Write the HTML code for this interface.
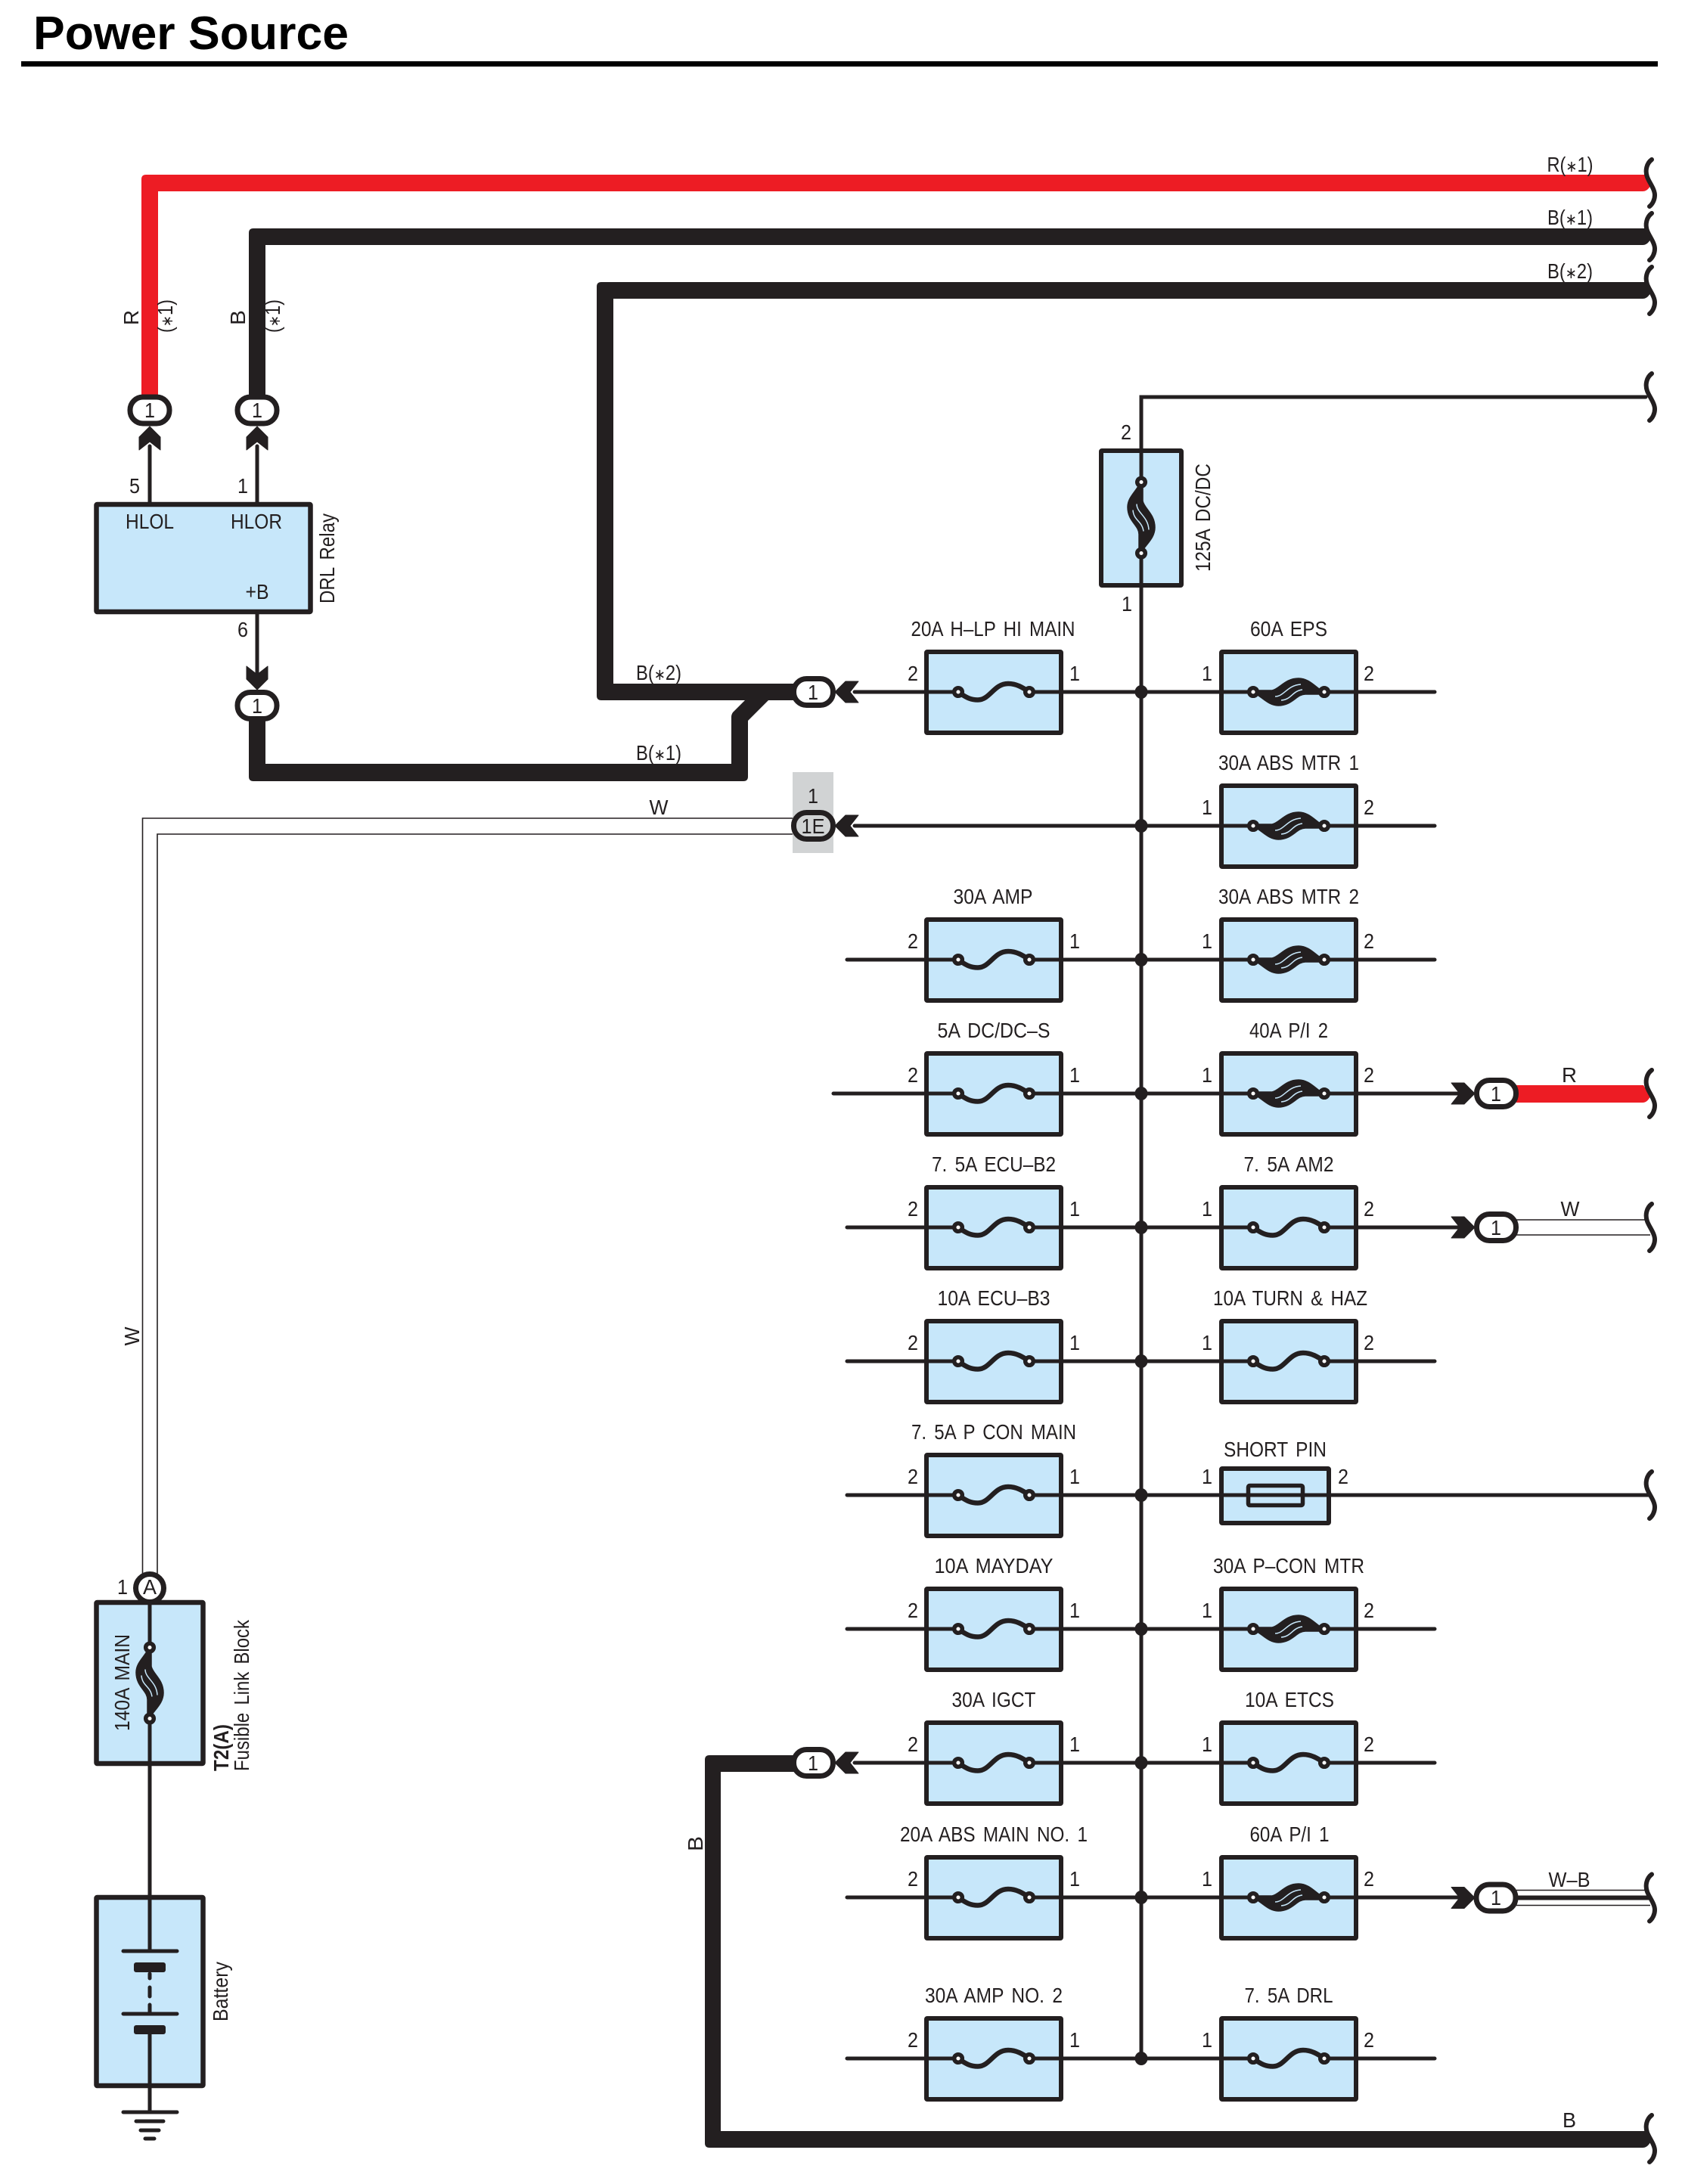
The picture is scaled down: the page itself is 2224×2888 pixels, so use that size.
<!DOCTYPE html>
<html>
<head>
<meta charset="utf-8">
<title>Power Source</title>
<style>
html,body{margin:0;padding:0;background:#fff}
svg{display:block}
text{font-family:"Liberation Sans",sans-serif;font-size:27.5px;fill:#231f20;word-spacing:4px}
.m{text-anchor:middle}
.w{fill:none;stroke:#231f20;stroke-width:5;stroke-linecap:round}
.t{fill:none;stroke:#231f20;stroke-width:1.6}
.k{fill:#231f20}
.r{font-size:21px}
</style>
</head>
<body>
<svg xmlns="http://www.w3.org/2000/svg" width="2224" height="2888" viewBox="0 0 2224 2888">
<defs>
<rect id="b" x="-89" y="-53" width="178" height="107" rx="1" fill="#c7e7fa" stroke="#231f20" stroke-width="6"/>
<g id="s">
<line x1="-42" y1="0" x2="42" y2="0" stroke="#c7e7fa" stroke-width="7"/>
<path d="M-47 0C-36 8-30 10.500-21 10.500C-5 10.500 0-11 19-11C30-11 38-6 47 0" fill="none" stroke="#231f20" stroke-width="6.500"/>
<circle cx="-47" cy="0" r="5.300" fill="#fff" stroke="#231f20" stroke-width="5.500"/>
<circle cx="47" cy="0" r="5.300" fill="#fff" stroke="#231f20" stroke-width="5.500"/>
</g>
<g id="h">
<line x1="-42" y1="0" x2="42" y2="0" stroke="#c7e7fa" stroke-width="7"/>
<path d="M-43-2L-22-2C-12-4-5-18 13-18C26-18 34-8 43-2L43 3L22 3C10 3 5 18-14 18C-26 18-34 8-43 3Z" fill="#231f20" stroke="#231f20" stroke-width="1.500"/>
<path d="M-18 6C-6 6-2-9 16-10M-10 11C4 10 4-1 18-3" fill="none" stroke="#c7e7fa" stroke-width="1.500"/>
<circle cx="-47" cy="0" r="5.300" fill="#fff" stroke="#231f20" stroke-width="5.500"/>
<circle cx="47" cy="0" r="5.300" fill="#fff" stroke="#231f20" stroke-width="5.500"/>
</g>
<polygon id="a" points="0,0 14,14 14,31 0,20 -14,31 -14,14" fill="#231f20" stroke="#231f20" stroke-width="1" stroke-linejoin="round"/>
<rect id="o" x="-26" y="-17.500" width="52" height="35" rx="17" fill="#fff" stroke="#231f20" stroke-width="7"/>
<path id="c" d="M2-31C-5-26-7-16-4-8C-1 0 6 8 6 16C6 22 3 28-1 31" fill="none" stroke="#231f20" stroke-width="6" stroke-linecap="round"/>
<ellipse id="d" cx="0" cy="0" rx="8.500" ry="9" fill="#231f20"/>
</defs>

<!-- Title -->
<text x="44" y="65" textLength="417" lengthAdjust="spacingAndGlyphs" style="font-size:62px;font-weight:bold;fill:#000;word-spacing:0">Power Source</text>
<rect x="28" y="81" width="2164" height="7" fill="#000"/>

<!-- Heavy wires -->
<path d="M187 525V237Q187 231 193 231H2175L2182 246Q2178 253 2172 253H209V525Z" fill="#ed1c24"/>
<path class="k" d="M329 525V308Q329 302 335 302H2175L2182 317Q2178 324 2172 324H351V525Z"/>
<path class="k" d="M789 920V379Q789 373 795 373H2175L2182 388Q2178 395 2172 395H811V904H1052V926H795Q789 926 789 920Z"/>
<path class="k" d="M329 950V1027Q329 1033 335 1033H983Q989 1033 989 1027V953L1016 926H985L969 942Q967 945 967 948V1010H351V950Z"/>
<path class="k" d="M1055 2321H938Q932 2321 932 2327V2834Q932 2840 938 2840H2172Q2178 2840 2182 2833L2175 2818H953V2343H1055Z"/>
<path d="M2005 1435H2173L2182 1450Q2178 1458 2172 1458H2005Z" fill="#ed1c24"/>

<!-- Thin double wires -->
<path class="t" d="M188.500 2085V1082H1050M208 2085V1103H1050"/>
<path class="t" d="M2005 1613H2178M2005 1633H2182M2005 2499.500H2178M2005 2519.500H2182"/>
<line x1="2005" y1="2509.500" x2="2182" y2="2509.500" stroke="#231f20" stroke-width="6"/>

<!-- Fuse bodies -->
<use href="#b" x="1314" y="915"/><use href="#b" x="1704" y="915"/>
<use href="#b" x="1704" y="1092"/>
<use href="#b" x="1314" y="1269"/><use href="#b" x="1704" y="1269"/>
<use href="#b" x="1314" y="1446"/><use href="#b" x="1704" y="1446"/>
<use href="#b" x="1314" y="1623"/><use href="#b" x="1704" y="1623"/>
<use href="#b" x="1314" y="1800"/><use href="#b" x="1704" y="1800"/>
<use href="#b" x="1314" y="1977"/>
<rect x="1615" y="1942" width="142" height="72" rx="1" fill="#c7e7fa" stroke="#231f20" stroke-width="6"/>
<use href="#b" x="1314" y="2154"/><use href="#b" x="1704" y="2154"/>
<use href="#b" x="1314" y="2331"/><use href="#b" x="1704" y="2331"/>
<use href="#b" x="1314" y="2509"/><use href="#b" x="1704" y="2509"/>
<use href="#b" x="1314" y="2722"/><use href="#b" x="1704" y="2722"/>
<rect x="1456" y="596" width="106" height="178" rx="1" fill="#c7e7fa" stroke="#231f20" stroke-width="6"/>
<rect x="127.500" y="667" width="283" height="142" rx="1" fill="#c7e7fa" stroke="#231f20" stroke-width="6.500"/>
<rect x="127.500" y="2119" width="141" height="213" rx="1" fill="#c7e7fa" stroke="#231f20" stroke-width="6.500"/>
<rect x="127.500" y="2509" width="141" height="249" rx="1" fill="#c7e7fa" stroke="#231f20" stroke-width="6.500"/>

<!-- Bus and branch wires -->
<g class="w">
<path d="M2176 525H1509V2722"/>
<path d="M1130 915H1897M1130 1092H1897M1120 1269H1897M1102 1446H1945M1120 1623H1945M1120 1800H1897M1120 1977H2180M1120 2154H1897M1130 2331H1897M1120 2509H1945M1120 2722H1897"/>
<path d="M198 590V664M340 590V664M340 812V890"/>
<path d="M198 2100V2580M198 2690V2793"/>
</g>

<!-- Short pin -->
<rect x="1650.500" y="1964.500" width="72" height="26" rx="2" fill="none" stroke="#231f20" stroke-width="5.500"/>

<!-- Junctions -->
<use href="#d" x="1509" y="915"/><use href="#d" x="1509" y="1092"/><use href="#d" x="1509" y="1269"/><use href="#d" x="1509" y="1446"/><use href="#d" x="1509" y="1623"/><use href="#d" x="1509" y="1800"/><use href="#d" x="1509" y="1977"/><use href="#d" x="1509" y="2154"/><use href="#d" x="1509" y="2331"/><use href="#d" x="1509" y="2509"/><use href="#d" x="1509" y="2722"/>

<!-- Fuse symbols -->
<use href="#s" x="1314" y="915"/><use href="#h" x="1704" y="915"/>
<use href="#h" x="1704" y="1092"/>
<use href="#s" x="1314" y="1269"/><use href="#h" x="1704" y="1269"/>
<use href="#s" x="1314" y="1446"/><use href="#h" x="1704" y="1446"/>
<use href="#s" x="1314" y="1623"/><use href="#s" x="1704" y="1623"/>
<use href="#s" x="1314" y="1800"/><use href="#s" x="1704" y="1800"/>
<use href="#s" x="1314" y="1977"/>
<use href="#s" x="1314" y="2154"/><use href="#h" x="1704" y="2154"/>
<use href="#s" x="1314" y="2331"/><use href="#s" x="1704" y="2331"/>
<use href="#s" x="1314" y="2509"/><use href="#h" x="1704" y="2509"/>
<use href="#s" x="1314" y="2722"/><use href="#s" x="1704" y="2722"/>
<use href="#h" transform="translate(1509 684.500) rotate(90)"/>
<use href="#h" transform="translate(198 2225.500) rotate(90)"/>

<!-- Connectors and arrows -->
<use href="#a" transform="translate(198 564)"/>
<use href="#a" transform="translate(340 564)"/>
<use href="#a" transform="translate(340 912) rotate(180)"/>
<use href="#a" transform="translate(1104 915) rotate(-90)"/>
<use href="#a" transform="translate(1104 1092) rotate(-90)"/>
<use href="#a" transform="translate(1104 2331) rotate(-90)"/>
<use href="#a" transform="translate(1950 1446) rotate(90)"/>
<use href="#a" transform="translate(1950 1623) rotate(90)"/>
<use href="#a" transform="translate(1950 2509.500) rotate(90)"/>
<use href="#o" x="198" y="542.500"/>
<use href="#o" x="340" y="542.500"/>
<use href="#o" x="340" y="933"/>
<use href="#o" x="1075.500" y="915"/>
<rect x="1048" y="1021" width="54" height="107" fill="#d1d3d4"/>
<rect x="1049.500" y="1074.500" width="52" height="35" rx="17" fill="#d1d3d4" stroke="#231f20" stroke-width="7"/>
<use href="#o" x="1075.500" y="2331"/>
<use href="#o" x="1978.500" y="1446"/>
<use href="#o" x="1978.500" y="1623"/>
<use href="#o" x="1978" y="2509.500"/>
<circle cx="198" cy="2100" r="18.500" fill="#fff" stroke="#231f20" stroke-width="7"/>

<!-- Wire-end breaks -->
<use href="#c" x="2182" y="242"/><use href="#c" x="2182" y="313"/><use href="#c" x="2182" y="384"/><use href="#c" x="2182" y="525"/>
<use href="#c" x="2182" y="1446"/><use href="#c" x="2182" y="1623"/><use href="#c" x="2182" y="1977"/><use href="#c" x="2182" y="2509.500"/><use href="#c" x="2182" y="2828"/>

<!-- Battery -->
<g class="w">
<path d="M163 2580H234M163 2663H234"/>
<path d="M198 2610V2616M198 2628V2640M198 2651V2661"/>
<path d="M163 2793H234M180 2805H216M186 2817H210M192 2828H204"/>
</g>
<rect x="177" y="2595" width="42" height="13" rx="3" class="k"/>
<rect x="177" y="2678" width="42" height="12" rx="3" class="k"/>

<!-- Fuse labels -->
<g class="m">
<text x="1313" y="841" textLength="217" lengthAdjust="spacingAndGlyphs">20A H–LP HI MAIN</text>
<text x="1704" y="841" textLength="102" lengthAdjust="spacingAndGlyphs">60A EPS</text>
<text x="1704" y="1018" textLength="186" lengthAdjust="spacingAndGlyphs">30A ABS MTR 1</text>
<text x="1313" y="1195" textLength="105" lengthAdjust="spacingAndGlyphs">30A AMP</text>
<text x="1704" y="1195" textLength="186" lengthAdjust="spacingAndGlyphs">30A ABS MTR 2</text>
<text x="1314" y="1372" textLength="149" lengthAdjust="spacingAndGlyphs">5A DC/DC–S</text>
<text x="1704" y="1372" textLength="104" lengthAdjust="spacingAndGlyphs">40A P/I 2</text>
<text x="1314" y="1549" textLength="164" lengthAdjust="spacingAndGlyphs">7. 5A ECU–B2</text>
<text x="1704" y="1549" textLength="119" lengthAdjust="spacingAndGlyphs">7. 5A AM2</text>
<text x="1314" y="1726" textLength="149" lengthAdjust="spacingAndGlyphs">10A ECU–B3</text>
<text x="1706" y="1726" textLength="204" lengthAdjust="spacingAndGlyphs">10A TURN &amp; HAZ</text>
<text x="1314" y="1903" textLength="218" lengthAdjust="spacingAndGlyphs">7. 5A P CON MAIN</text>
<text x="1686" y="1926" textLength="136" lengthAdjust="spacingAndGlyphs">SHORT PIN</text>
<text x="1314" y="2080" textLength="157" lengthAdjust="spacingAndGlyphs">10A MAYDAY</text>
<text x="1704" y="2080" textLength="200" lengthAdjust="spacingAndGlyphs">30A P–CON MTR</text>
<text x="1314" y="2257" textLength="111" lengthAdjust="spacingAndGlyphs">30A IGCT</text>
<text x="1705" y="2257" textLength="118" lengthAdjust="spacingAndGlyphs">10A ETCS</text>
<text x="1314" y="2435" textLength="248" lengthAdjust="spacingAndGlyphs">20A ABS MAIN NO. 1</text>
<text x="1705" y="2435" textLength="105" lengthAdjust="spacingAndGlyphs">60A P/I 1</text>
<text x="1314" y="2648" textLength="182" lengthAdjust="spacingAndGlyphs">30A AMP NO. 2</text>
<text x="1704" y="2648" textLength="117" lengthAdjust="spacingAndGlyphs">7. 5A DRL</text>

<!-- Pin numbers -->
<text x="1207" y="900" textLength="14" lengthAdjust="spacingAndGlyphs">2</text><text x="1421" y="900" textLength="14" lengthAdjust="spacingAndGlyphs">1</text><text x="1596" y="900" textLength="14" lengthAdjust="spacingAndGlyphs">1</text><text x="1810" y="900" textLength="14" lengthAdjust="spacingAndGlyphs">2</text>
<text x="1596" y="1077" textLength="14" lengthAdjust="spacingAndGlyphs">1</text><text x="1810" y="1077" textLength="14" lengthAdjust="spacingAndGlyphs">2</text>
<text x="1207" y="1254" textLength="14" lengthAdjust="spacingAndGlyphs">2</text><text x="1421" y="1254" textLength="14" lengthAdjust="spacingAndGlyphs">1</text><text x="1596" y="1254" textLength="14" lengthAdjust="spacingAndGlyphs">1</text><text x="1810" y="1254" textLength="14" lengthAdjust="spacingAndGlyphs">2</text>
<text x="1207" y="1431" textLength="14" lengthAdjust="spacingAndGlyphs">2</text><text x="1421" y="1431" textLength="14" lengthAdjust="spacingAndGlyphs">1</text><text x="1596" y="1431" textLength="14" lengthAdjust="spacingAndGlyphs">1</text><text x="1810" y="1431" textLength="14" lengthAdjust="spacingAndGlyphs">2</text>
<text x="1207" y="1608" textLength="14" lengthAdjust="spacingAndGlyphs">2</text><text x="1421" y="1608" textLength="14" lengthAdjust="spacingAndGlyphs">1</text><text x="1596" y="1608" textLength="14" lengthAdjust="spacingAndGlyphs">1</text><text x="1810" y="1608" textLength="14" lengthAdjust="spacingAndGlyphs">2</text>
<text x="1207" y="1785" textLength="14" lengthAdjust="spacingAndGlyphs">2</text><text x="1421" y="1785" textLength="14" lengthAdjust="spacingAndGlyphs">1</text><text x="1596" y="1785" textLength="14" lengthAdjust="spacingAndGlyphs">1</text><text x="1810" y="1785" textLength="14" lengthAdjust="spacingAndGlyphs">2</text>
<text x="1207" y="1962" textLength="14" lengthAdjust="spacingAndGlyphs">2</text><text x="1421" y="1962" textLength="14" lengthAdjust="spacingAndGlyphs">1</text><text x="1596" y="1962" textLength="14" lengthAdjust="spacingAndGlyphs">1</text><text x="1776" y="1962" textLength="14" lengthAdjust="spacingAndGlyphs">2</text>
<text x="1207" y="2139" textLength="14" lengthAdjust="spacingAndGlyphs">2</text><text x="1421" y="2139" textLength="14" lengthAdjust="spacingAndGlyphs">1</text><text x="1596" y="2139" textLength="14" lengthAdjust="spacingAndGlyphs">1</text><text x="1810" y="2139" textLength="14" lengthAdjust="spacingAndGlyphs">2</text>
<text x="1207" y="2316" textLength="14" lengthAdjust="spacingAndGlyphs">2</text><text x="1421" y="2316" textLength="14" lengthAdjust="spacingAndGlyphs">1</text><text x="1596" y="2316" textLength="14" lengthAdjust="spacingAndGlyphs">1</text><text x="1810" y="2316" textLength="14" lengthAdjust="spacingAndGlyphs">2</text>
<text x="1207" y="2494" textLength="14" lengthAdjust="spacingAndGlyphs">2</text><text x="1421" y="2494" textLength="14" lengthAdjust="spacingAndGlyphs">1</text><text x="1596" y="2494" textLength="14" lengthAdjust="spacingAndGlyphs">1</text><text x="1810" y="2494" textLength="14" lengthAdjust="spacingAndGlyphs">2</text>
<text x="1207" y="2707" textLength="14" lengthAdjust="spacingAndGlyphs">2</text><text x="1421" y="2707" textLength="14" lengthAdjust="spacingAndGlyphs">1</text><text x="1596" y="2707" textLength="14" lengthAdjust="spacingAndGlyphs">1</text><text x="1810" y="2707" textLength="14" lengthAdjust="spacingAndGlyphs">2</text>
<text x="1489" y="581" textLength="14" lengthAdjust="spacingAndGlyphs">2</text><text x="1490" y="808" textLength="14" lengthAdjust="spacingAndGlyphs">1</text>
<text x="178" y="652" textLength="14" lengthAdjust="spacingAndGlyphs">5</text><text x="321" y="652" textLength="14" lengthAdjust="spacingAndGlyphs">1</text><text x="321" y="842" textLength="14" lengthAdjust="spacingAndGlyphs">6</text>
<text x="162" y="2108" textLength="14" lengthAdjust="spacingAndGlyphs">1</text>
<text x="1075" y="1062" textLength="14" lengthAdjust="spacingAndGlyphs">1</text>

<!-- Connector labels -->
<text x="198" y="552" textLength="14" lengthAdjust="spacingAndGlyphs">1</text>
<text x="340" y="552" textLength="14" lengthAdjust="spacingAndGlyphs">1</text>
<text x="340" y="943" textLength="14" lengthAdjust="spacingAndGlyphs">1</text>
<text x="1075" y="925" textLength="14" lengthAdjust="spacingAndGlyphs">1</text>
<text x="1075" y="1102" textLength="31" lengthAdjust="spacingAndGlyphs">1E</text>
<text x="1075" y="2341" textLength="14" lengthAdjust="spacingAndGlyphs">1</text>
<text x="1978" y="1456" textLength="14" lengthAdjust="spacingAndGlyphs">1</text>
<text x="1978" y="1633" textLength="14" lengthAdjust="spacingAndGlyphs">1</text>
<text x="1978" y="2519" textLength="14" lengthAdjust="spacingAndGlyphs">1</text>
<text x="198" y="2108" textLength="18" lengthAdjust="spacingAndGlyphs">A</text>

<!-- Relay labels -->
<text x="198" y="699" textLength="64" lengthAdjust="spacingAndGlyphs">HLOL</text>
<text x="339" y="699" textLength="68" lengthAdjust="spacingAndGlyphs">HLOR</text>
<text x="340" y="792" textLength="31" lengthAdjust="spacingAndGlyphs">+B</text>

<!-- Wire labels -->
<text x="2076" y="227" textLength="61" lengthAdjust="spacingAndGlyphs">R(<tspan class="r">∗</tspan>1)</text>
<text x="2076" y="297" textLength="60" lengthAdjust="spacingAndGlyphs">B(<tspan class="r">∗</tspan>1)</text>
<text x="2076" y="368" textLength="60" lengthAdjust="spacingAndGlyphs">B(<tspan class="r">∗</tspan>2)</text>
<text x="871" y="899" textLength="60" lengthAdjust="spacingAndGlyphs">B(<tspan class="r">∗</tspan>2)</text>
<text x="871" y="1005" textLength="60" lengthAdjust="spacingAndGlyphs">B(<tspan class="r">∗</tspan>1)</text>
<text x="871" y="1077" textLength="25" lengthAdjust="spacingAndGlyphs">W</text>
<text x="2075" y="1431" textLength="20" lengthAdjust="spacingAndGlyphs">R</text>
<text x="2076" y="1608" textLength="25" lengthAdjust="spacingAndGlyphs">W</text>
<text x="2075" y="2495" textLength="55" lengthAdjust="spacingAndGlyphs">W–B</text>
<text x="2075" y="2813" textLength="18" lengthAdjust="spacingAndGlyphs">B</text>

<!-- Rotated labels -->
<text transform="translate(183 420) rotate(-90)" textLength="20" lengthAdjust="spacingAndGlyphs">R</text>
<text transform="translate(228 418) rotate(-90)" textLength="44" lengthAdjust="spacingAndGlyphs">(<tspan class="r">∗</tspan>1)</text>
<text transform="translate(324 420) rotate(-90)" textLength="20" lengthAdjust="spacingAndGlyphs">B</text>
<text transform="translate(370 418) rotate(-90)" textLength="44" lengthAdjust="spacingAndGlyphs">(<tspan class="r">∗</tspan>1)</text>
<text transform="translate(184 1767) rotate(-90)" textLength="25" lengthAdjust="spacingAndGlyphs">W</text>
<text transform="translate(929 2438) rotate(-90)" textLength="20" lengthAdjust="spacingAndGlyphs">B</text>
</g>
<text transform="translate(442 798) rotate(-90)" textLength="119" lengthAdjust="spacingAndGlyphs">DRL Relay</text>
<text transform="translate(1600 756) rotate(-90)" textLength="143" lengthAdjust="spacingAndGlyphs">125A DC/DC</text>
<text transform="translate(171 2289) rotate(-90)" textLength="128" lengthAdjust="spacingAndGlyphs">140A MAIN</text>
<text transform="translate(302 2342) rotate(-90)" textLength="62" lengthAdjust="spacingAndGlyphs" style="font-weight:bold">T2(A)</text>
<text transform="translate(329 2342) rotate(-90)" textLength="200" lengthAdjust="spacingAndGlyphs">Fusible Link Block</text>
<text transform="translate(301 2673) rotate(-90)" textLength="79" lengthAdjust="spacingAndGlyphs">Battery</text>
</svg>
</body>
</html>
